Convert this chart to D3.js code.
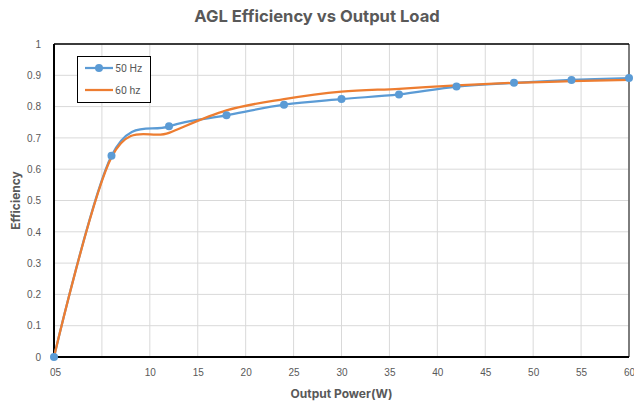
<!DOCTYPE html>
<html><head><meta charset="utf-8">
<script src="https://cdn.jsdelivr.net/npm/d3@7"></script>
<style>
html,body{margin:0;padding:0;background:#fff;}
svg{display:block;font-family:Roboto,"Noto Sans",sans-serif;}
</style></head>
<body><svg id="c" width="634" height="405"></svg>
<script>
const xValues = [0, 6, 12, 18, 24, 30, 36, 42, 48, 54, 60];
const eff50Hz = [0, 0.643, 0.737, 0.772, 0.806, 0.824, 0.839, 0.864, 0.876, 0.885, 0.891];
const eff60Hz = [0, 0.638, 0.716, 0.788, 0.824, 0.848, 0.857, 0.868, 0.876, 0.881, 0.885];
const seriesNames = ["50 Hz", "60 hz"];
const xTickValues = [0, 5, 10, 15, 20, 25, 30, 35, 40, 45, 50, 55, 60];
const xTickLabels = ["05", "", "10", "15", "20", "25", "30", "35", "40", "45", "50", "55", "60"];
const yTickValues = [0, 0.1, 0.2, 0.3, 0.4, 0.5, 0.6, 0.7, 0.8, 0.9, 1];
const yTickLabels = ["0", "0.1", "0.2", "0.3", "0.4", "0.5", "0.6", "0.7", "0.8", "0.9", "1"];

const svg = d3.select("#c");
const L = 54, R = 629, T = 44, B = 357;
const x = d3.scaleLinear().domain([0, 60]).range([L, R]);
const y = d3.scaleLinear().domain([0, 1]).range([B, T]);
const colors = ["#5b9bd5", "#ed7d31"];
const textCol = "#595959";
const titleFont = "Inter, Roboto, sans-serif";

// gridlines
svg.append("g").selectAll("line.h").data(yTickValues).join("line")
  .attr("x1", L).attr("x2", R).attr("y1", d => y(d)).attr("y2", d => y(d))
  .attr("stroke", "#d9d9d9").attr("stroke-width", 1);
svg.append("g").selectAll("line.v").data(xTickValues).join("line")
  .attr("x1", d => x(d)).attr("x2", d => x(d)).attr("y1", T).attr("y2", B)
  .attr("stroke", "#d9d9d9").attr("stroke-width", 1);

// axes tick labels via d3 axes
const xAxis = d3.axisBottom(x).tickValues(xTickValues)
  .tickFormat((d, i) => xTickLabels[i]).tickSize(0).tickPadding(12);
const gx = svg.append("g").attr("transform", `translate(0,${B})`).call(xAxis);
gx.select(".domain").remove();
gx.selectAll("text").attr("fill", textCol).style("font-size", "10px")
  .attr("dx", (d, i) => i === 0 ? "1px" : 0);

const yAxis = d3.axisLeft(y).tickValues(yTickValues)
  .tickFormat((d, i) => yTickLabels[i]).tickSize(0).tickPadding(13);
const gy = svg.append("g").attr("transform", `translate(${L},0)`).call(yAxis);
gy.select(".domain").remove();
gy.selectAll("text").attr("fill", textCol).style("font-size", "10px");

// frame
svg.append("line").attr("x1", R).attr("x2", R).attr("y1", T).attr("y2", B).attr("stroke", "#595959").attr("stroke-width", 1.5);
svg.append("line").attr("x1", L).attr("x2", R).attr("y1", T).attr("y2", T).attr("stroke", "#000").attr("stroke-width", 1.5);
svg.append("line").attr("x1", L).attr("x2", R).attr("y1", B).attr("y2", B).attr("stroke", "#000").attr("stroke-width", 2);
svg.append("line").attr("x1", L).attr("x2", L).attr("y1", T).attr("y2", B).attr("stroke", "#000").attr("stroke-width", 2);

// lines
const line = d3.line().x(d => x(d[0])).y(d => y(d[1])).curve(d3.curveCardinal.tension(0));
const s50 = xValues.map((v, i) => [v, eff50Hz[i]]);
const s60 = xValues.map((v, i) => [v, eff60Hz[i]]);
svg.append("path").datum(s50).attr("d", line).attr("fill", "none")
  .attr("stroke", colors[0]).attr("stroke-width", 2.25).attr("stroke-linejoin", "round");
svg.append("path").datum(s60).attr("d", line).attr("fill", "none")
  .attr("stroke", colors[1]).attr("stroke-width", 2.25).attr("stroke-linejoin", "round");
svg.append("g").selectAll("circle").data(s50).join("circle")
  .attr("cx", d => x(d[0])).attr("cy", d => y(d[1])).attr("r", 4)
  .attr("fill", colors[0]);

// legend
const lg = svg.append("g");
lg.append("rect").attr("x", 77.5).attr("y", 56.5).attr("width", 73).attr("height", 46)
  .attr("fill", "#fff").attr("stroke", "#000").attr("stroke-width", 1);
seriesNames.forEach((n, i) => {
  const yy = 68 + i * 22;
  lg.append("line").attr("x1", 85).attr("x2", 113).attr("y1", yy).attr("y2", yy)
    .attr("stroke", colors[i]).attr("stroke-width", 2.25);
  if (i === 0) lg.append("circle").attr("cx", 99).attr("cy", yy).attr("r", 4).attr("fill", colors[0]);
  lg.append("text").attr("x", 115).attr("y", yy + 3.5).text(n)
    .attr("fill", textCol).style("font-size", "10.5px");
});

// titles
svg.append("text").attr("x", 317).attr("y", 22).attr("text-anchor", "middle")
  .attr("fill", textCol).style("font-family", titleFont).style("font-size", "16.6px").style("font-weight", "bold")
  .text("AGL Efficiency vs Output Load");
svg.append("text").attr("x", (L + R) / 2).attr("y", 398).attr("text-anchor", "middle")
  .attr("fill", textCol).style("font-family", titleFont).style("font-size", "12px").style("font-weight", "bold")
  .text("Output Power(W)");
svg.append("text").attr("transform", `translate(20,${(T + B) / 2}) rotate(-90)`)
  .attr("text-anchor", "middle").attr("fill", textCol).style("font-family", titleFont)
  .style("font-size", "12px").style("font-weight", "bold").text("Efficiency");
</script></body></html>
